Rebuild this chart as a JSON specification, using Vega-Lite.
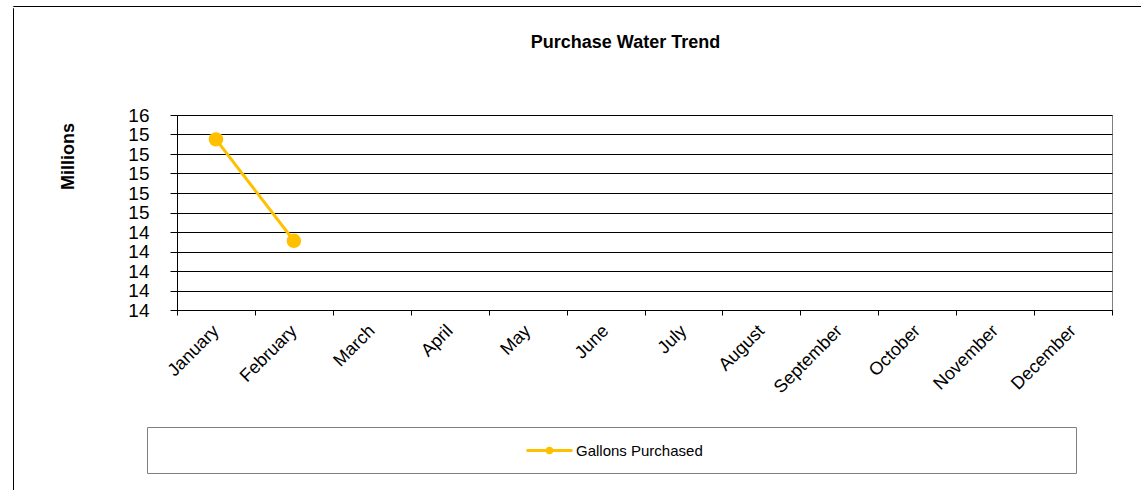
{
  "$schema": "https://vega.github.io/schema/vega-lite/v6.json",
  "padding": {"left": 12, "top": 5, "right": 0, "bottom": 0},
  "background": "white",
  "config": {
    "font": "Liberation Sans",
    "view": {"stroke": null},
    "axis": {"labelColor": "#000", "titleColor": "#000", "domainColor": "#000", "tickColor": "#000"}
  },
  "spacing": 0,
  "vconcat": [
    {
      "width": 1129,
      "height": 0.01,
      "view": {"stroke": "#000"},
      "data": {"values": []},
      "mark": "point"
    },
    {
      "spacing": 36,
      "hconcat": [
        {"width": 0.01, "height": 485, "view": {"stroke": "#000"}, "data": {"values": []}, "mark": "point"},
        {
          "spacing": 28,
          "vconcat": [
            {
              "spacing": 24,
              "vconcat": [
                {"width": 1, "height": 1, "data": {"values": []}, "mark": "point"},
                {
                  "spacing": 8,
                  "hconcat": [
                    {"width": 1, "height": 1, "data": {"values": []}, "mark": "point"},
                    {
                      "width": 935,
                      "height": 195,
                      "view": {"stroke": "#808080"},
                      "title": {"text": "Purchase Water Trend", "fontSize": 18, "fontWeight": "bold", "color": "#000", "anchor": "middle", "dx": -19, "offset": 54},
                      "data": {"values": [
                        {"month": "January", "gallons": 15.25, "series": "Gallons Purchased"},
                        {"month": "February", "gallons": 14.21, "series": "Gallons Purchased"}
                      ]},
                      "encoding": {
                        "x": {
                          "field": "month", "type": "ordinal",
                          "scale": {"type": "band", "domain": ["January", "February", "March", "April", "May", "June", "July", "August", "September", "October", "November", "December"], "paddingInner": 0, "paddingOuter": 0},
                          "axis": {"title": null, "tickBand": "extent", "labelAngle": -45, "labelAlign": "right", "labelBaseline": "middle", "labelFontSize": 18, "labelPadding": 13, "tickSize": 5, "labelOverlap": false, "labelBound": false, "labelFlush": false, "grid": false}
                        },
                        "y": {
                          "field": "gallons", "type": "quantitative",
                          "scale": {"domain": [13.5, 15.5], "zero": false, "nice": false},
                          "axis": {"values": [13.5, 13.7, 13.9, 14.1, 14.3, 14.5, 14.7, 14.9, 15.1, 15.3, 15.5], "format": ".0f", "labelFontSize": 19, "labelPadding": 21, "tickSize": 7, "labelOverlap": false, "labelFlush": false, "grid": true, "gridColor": "#000", "gridOpacity": 1, "title": "Millions", "titleFontSize": 18, "titleFontWeight": "bold", "titlePadding": 50, "titleY": 41}
                        },
                        "color": {
                          "field": "series", "type": "nominal",
                          "scale": {"range": ["#FFC000"]},
                          "legend": {"title": null, "orient": "none", "legendX": 512, "legendY": 420, "padding": 0, "symbolType": "M-1,0L1,0M-0.1,0A0.1,0.1,0,1,1,0.1,0A0.1,0.1,0,1,1,-0.1,0Z", "symbolSize": 2116, "symbolStrokeWidth": 3, "symbolFillColor": "#FFC000", "symbolStrokeColor": "#FFC000", "labelFontSize": 15, "labelOffset": 2, "labelColor": "#000"}
                        }
                      },
                      "layer": [
                        {"mark": {"type": "line", "strokeWidth": 3}},
                        {"mark": {"type": "point", "filled": true, "size": 210, "opacity": 1, "shape": "circle"}}
                      ]
                    }
                  ]
                }
              ]
            },
            {
              "spacing": 95,
              "hconcat": [
                {"width": 1, "height": 1, "data": {"values": []}, "mark": "point"},
                {"width": 929, "height": 46, "view": {"stroke": "#7f7f7f"}, "data": {"values": []}, "mark": "point"}
              ]
            }
          ]
        }
      ]
    }
  ]
}
